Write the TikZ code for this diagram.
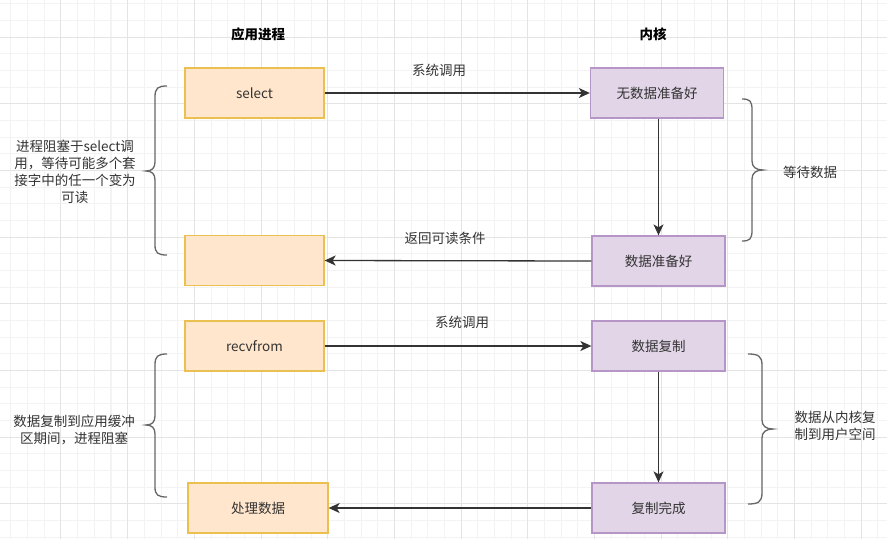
\documentclass[tikz,border=0pt]{standalone}
\usepackage{fontspec}
\setmainfont{Noto Sans CJK SC}
\usetikzlibrary{arrows.meta}
\definecolor{ofill}{HTML}{FFE6CC}
\definecolor{ostroke}{HTML}{EBC050}
\definecolor{pfill}{HTML}{E1D5E7}
\definecolor{pstroke}{HTML}{B596C6}
\definecolor{txt}{HTML}{333333}
\definecolor{gminor}{HTML}{F3F3F3}
\definecolor{gmajor}{HTML}{E4E4E4}
\tikzset{
  base/.style={rectangle, inner sep=0pt, line width=1.3pt, font=\fontsize{13.5}{16}\selectfont, text=txt},
  obox/.style={base, fill=ofill, draw=ostroke, minimum width=139pt, minimum height=50pt},
  pbox/.style={base, fill=pfill, draw=pstroke, minimum width=133pt, minimum height=50pt},
  arr/.style={draw=txt, line width=1.3pt, -{Stealth[length=11pt,width=10pt,inset=3pt]}},
  lbl/.style={text=txt, font=\fontsize{13.5}{17}\selectfont, inner sep=0pt, align=center},
  hdr/.style={text=black, font=\bfseries\fontsize{13.5}{16}\selectfont, inner sep=0pt},
  brc/.style={draw=black!60, line width=1.3pt},
}
\begin{document}
\begin{tikzpicture}[x=1pt,y=-1pt]
\useasboundingbox (0,0) rectangle (887,539);
\fill[white] (0,0) rectangle (887,539);
% grid
\foreach \i in {0,...,54} {
  \draw[gminor, line width=1pt] ({-5.67+16.667*\i},0) -- ++(0,539);
}
\foreach \i in {0,...,33} {
  \draw[gminor, line width=1pt] (0,{3.67+16.667*\i}) -- ++(887,0);
}
\foreach \i in {0,...,13} {
  \draw[gmajor, line width=1pt] ({-5.67+66.667*\i},0) -- ++(0,539);
}
\foreach \i in {0,...,8} {
  \draw[gmajor, line width=1pt] (0,{37+66.667*\i}) -- ++(887,0);
}
% headers
\node[hdr] (h1) at (258,34) {应用进程};
\node[hdr] (h2) at (653,34) {内核};
% boxes
\node[obox] (sel) at (254.5,93) {select};
\node[obox] (ret) at (254.5,260.5) {};
\node[obox] (rcv) at (254.5,346) {recvfrom};
\node[obox, minimum width=140pt] (proc) at (258,508) {处理数据};
\node[pbox] (k1) at (657,93) {无数据准备好};
\node[pbox] (k2) at (658.5,261) {数据准备好};
\node[pbox] (k3) at (658.5,346) {数据复制};
\node[pbox] (k4) at (658.5,508) {复制完成};
% arrows
\draw[arr] (sel.east) -- (k1.west);
\draw[arr] (k1.south -| k2.north) -- (k2.north);
\draw[arr] (k2.west) -- (ret.east);
\draw[arr] (rcv.east) -- (k3.west);
\draw[arr] (k3.south) -- (k4.north);
\draw[arr] (k4.west) -- (proc.east);
% labels
\node[lbl] (l1) at (439,70) {系统调用};
\node[lbl] (l2) at (445,238) {返回可读条件};
\node[lbl] (l3) at (462,322) {系统调用};
\node[lbl] (l4) at (810,172) {等待数据};
\node[lbl] (l5) at (835,425.5) {数据从内核复\\制到用户空间};
\node[lbl] (l6) at (75,171.5) {进程阻塞于select调\\用，等待可能多个套\\接字中的任一个变为\\可读};
\node[lbl] (l7) at (74,429.5) {数据复制到应用缓冲\\区期间，进程阻塞};
% braces
\draw[brc] (167,86) .. controls (158,86) and (155,88) .. (155,97) -- (155,162)
  .. controls (155,168) and (152,171) .. (146,171)
  .. controls (152,171) and (155,174) .. (155,180) -- (155,245)
  .. controls (155,253) and (158,255) .. (167,255);
\draw[brc] (167,354) .. controls (158,354) and (155,356) .. (155,365) -- (155,416)
  .. controls (155,422) and (152,425) .. (146,425)
  .. controls (152,425) and (155,428) .. (155,434) -- (155,487)
  .. controls (155,495) and (158,497) .. (167,497);
\draw[brc] (742,99) .. controls (750,99) and (752,101) .. (752,110) -- (752,161)
  .. controls (752,167) and (756,170) .. (763,170)
  .. controls (756,170) and (752,173) .. (752,179) -- (752,230)
  .. controls (752,239) and (750,241) .. (742,241);
\draw[brc] (748,354) .. controls (758,354) and (762,356) .. (762,365) -- (762,420)
  .. controls (762,426) and (766,429) .. (773,429)
  .. controls (766,429) and (762,432) .. (762,438) -- (762,493)
  .. controls (762,502) and (758,504) .. (748,504);
\end{tikzpicture}
\end{document}
